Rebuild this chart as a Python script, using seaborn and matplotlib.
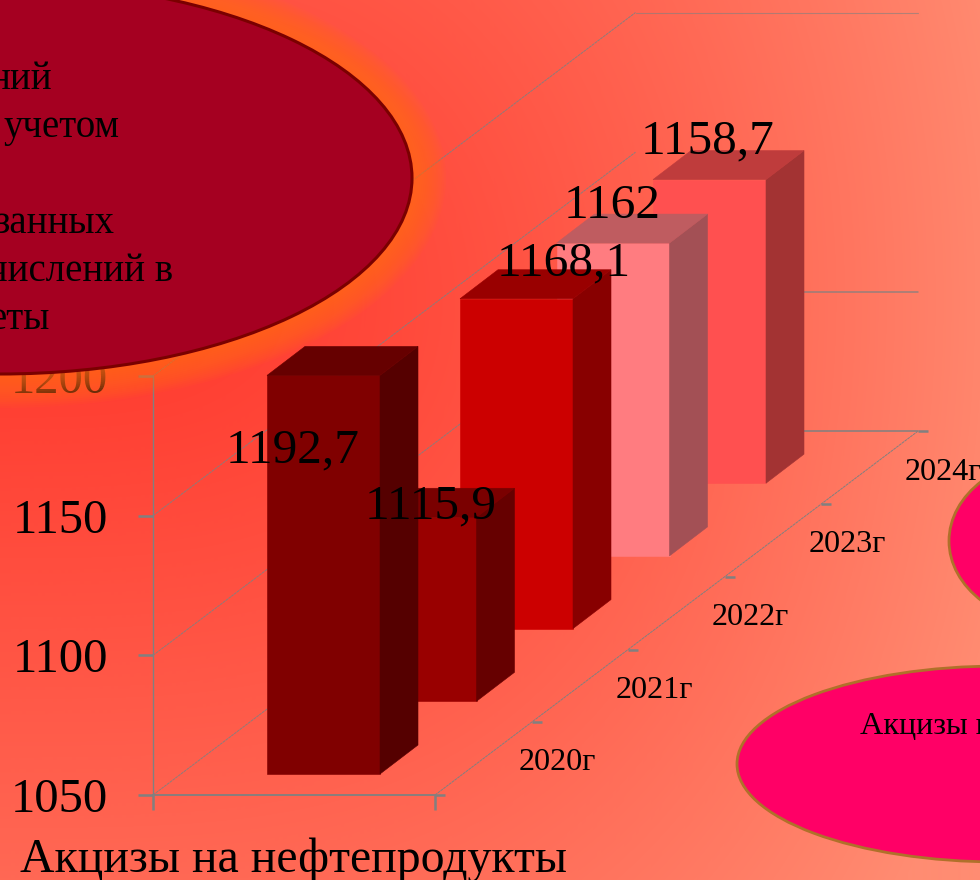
import numpy as np
import pandas as pd
import matplotlib
matplotlib.use("Agg")
import matplotlib.pyplot as plt
from matplotlib.patches import Ellipse
from matplotlib.colors import LinearSegmentedColormap
from matplotlib.transforms import Affine2D
import seaborn as sns

# ---- data ----
years = ["2020г", "2021г", "2022г", "2023г", "2024г"]
values = [1192.7, 1115.9, 1168.1, 1162.0, 1158.7]
value_labels = ["1192,7", "1115,9", "1168,1", "1162", "1158,7"]
y_ticks = [1050, 1100, 1150, 1200]
title_text = "Акцизы на нефтепродукты"
note_lines = ["ний", "учетом", "занных", "числений в", "еты"]
pink_text = "Акцизы н"

# ---- styles ----
front_colors = ["#800000", "#990000", "#CC0000", "#FF7C80", "#FF5050"]
side_colors = ["#550000", "#660000", "#880000", "#A35055", "#A33333"]
top_colors = ["#660000", "#7A0000", "#990000", "#BF5C60", "#BF3C3C"]
label_offsets_px = [(-31, -75), (11, 11), (47, 35), (-1, 37), (-2, 38)]

W, H = 980, 880
PX_PER_STEP = 96.5          # one category in x
PX_PER_UNIT = 2.793         # one value unit in y
Y0_PX, X0_PX = 795, 323.5   # pixel of value 1050, pixel of the first bar centre
DEPTH_UNITS = 26.03         # value units climbed per category going back
BAR_W = 113 / PX_PER_STEP
BAR_SHIFT = 21 / PX_PER_UNIT
SIDE_DX = 38 / PX_PER_STEP
SIDE_DY = 29 / PX_PER_UNIT
FLOOR_L = (153 - X0_PX) / PX_PER_STEP
FLOOR_R = (435 - X0_PX) / PX_PER_STEP
N = len(years)
BASE = y_ticks[0]

sns.set_theme(style="ticks")
plt.rcParams["font.family"] = ["Liberation Serif", "DejaVu Serif"]

fig = plt.figure(figsize=(W / 100, H / 100), dpi=100)

# background gradient
bg = fig.add_axes([0, 0, 1, 1], zorder=-1)
yy, xx = np.mgrid[0:H, 0:W]
rr = np.hypot((xx / 1030) ** 1.6, (yy - 300) / 1000)
cmap = LinearSegmentedColormap.from_list("bg", ["#FF372C", "#FF8C72"])
bg.imshow(rr, cmap=cmap, vmin=0, vmax=1, aspect="auto")
bg.axis("off")

ax = fig.add_axes([0, 0, 1, 1], zorder=1)
ax.patch.set_alpha(0)

df = pd.DataFrame({"year": years, "height": np.array(values) - BASE})
sns.barplot(data=df, x="year", y="height", order=years, width=BAR_W,
            saturation=1, ax=ax)

for i, patch in enumerate(ax.patches):
    b = BASE + BAR_SHIFT + DEPTH_UNITS * i
    t = b + values[i] - BASE
    patch.set_y(b)
    patch.set_facecolor(front_colors[i])
    patch.set_edgecolor(front_colors[i])
    patch.set_linewidth(0.4)
    z = 10 - i
    patch.set_zorder(z)
    xl, xr = i - BAR_W / 2, i + BAR_W / 2
    ax.fill([xr, xr + SIDE_DX, xr + SIDE_DX, xr], [b, b + SIDE_DY, t + SIDE_DY, t],
            color=side_colors[i], lw=0.4, zorder=z)
    ax.fill([xl, xr, xr + SIDE_DX, xl + SIDE_DX], [t, t, t + SIDE_DY, t + SIDE_DY],
            color=top_colors[i], lw=0.4, zorder=z)
    ox, oy = label_offsets_px[i]
    ax.annotate(value_labels[i], xy=(i, t), xytext=(ox * 0.72, oy * 0.72),
                textcoords="offset points", ha="center", va="center",
                fontsize=35.5, color="black", zorder=15)

ax.set_xlim((0 - X0_PX) / PX_PER_STEP, (W - X0_PX) / PX_PER_STEP)
ax.set_ylim(BASE - (H - Y0_PX) / PX_PER_UNIT, BASE + Y0_PX / PX_PER_UNIT)
ax.set_xlabel("")
ax.set_ylabel("")

# walls and floor
grid_c = "#808080"
for v in y_ticks:
    ax.plot([FLOOR_L, FLOOR_L + N], [v, v + N * DEPTH_UNITS], color=grid_c, lw=0.7,
            alpha=0.9, ls=(0, (3, 0.6)), zorder=1)
for v, lw, a in [(1050, 1.1, 1.0), (1100, 1.1, 0.8), (1200, 0.8, 0.6)]:
    ax.plot([FLOOR_L + N, FLOOR_R + N], [v + N * DEPTH_UNITS] * 2, color=grid_c,
            lw=lw, alpha=a, zorder=1)
ax.plot([FLOOR_R, FLOOR_R + N], [BASE, BASE + N * DEPTH_UNITS], color=grid_c, lw=0.7,
        ls=(0, (3, 0.6)), zorder=1)
for k in range(N + 1):
    x0, y0 = FLOOR_R + k, BASE + k * DEPTH_UNITS
    ax.plot([x0, x0 + 10 / PX_PER_STEP], [y0, y0], color=grid_c, lw=1.8, zorder=1,
            solid_capstyle="butt")
for k, yr in enumerate(years):
    ax.text(FLOOR_R + k + 0.5 + 0.77, BASE + (k + 0.5) * DEPTH_UNITS - 1.5, yr,
            ha="center", va="center", fontsize=23.2, color="black", zorder=15)

# real axes
for s in ("top", "right"):
    ax.spines[s].set_visible(False)
ax.spines["left"].set_position(("data", FLOOR_L))
ax.spines["left"].set_bounds(y_ticks[0], y_ticks[-1])
ax.spines["bottom"].set_position(("data", BASE))
ax.spines["bottom"].set_bounds(FLOOR_L, FLOOR_R)
ax.spines["left"].set_color(grid_c)
ax.spines["left"].set_linewidth(1.0)
ax.spines["bottom"].set_color(grid_c)
ax.spines["bottom"].set_linewidth(1.3)
ax.set_xticks([FLOOR_L, FLOOR_R], ["", ""])
ax.set_yticks(y_ticks, [str(v) for v in y_ticks])
ax.tick_params(axis="x", length=10.5, width=1.8, color=grid_c)
ax.tick_params(axis="y", length=10.5, width=1.8, color=grid_c, labelsize=35,
               pad=22, labelcolor="black")

# annotation shapes in pixel space
px = Affine2D().scale(1, -1).translate(0, H)

def ell(cx, cy, a, b, **kw):
    e = Ellipse((cx, cy), 2 * a, 2 * b, transform=px, **kw)
    fig.add_artist(e)
    return e

for t in range(33, 0, -2):
    ell(0, 178, 413 + t, 197 + t, fc="#FF6A1A", ec="none", alpha=0.09, zorder=20)
ell(0, 178, 412, 196, fc="#A50021", ec="#7A0000", lw=2.2, zorder=21)
ell(1000, 764, 263, 98, fc="#FF0066", ec="#B0702A", lw=2, zorder=21)
ell(1062, 541, 113, 85, fc="#FF0066", ec="#B0702A", lw=2, zorder=21)

note_right = [52, 120, 115, 173, 50]
note_y = [79, 127, 223, 271, 319]
for s, x, y in zip(note_lines, note_right, note_y):
    fig.text(x, y, s, transform=px, ha="right", va="center", fontsize=28,
             color="black", zorder=22)
fig.text(860, 726, pink_text, transform=px, ha="left", va="center", fontsize=23.2,
         color="black", zorder=22)
fig.text(20, 860, title_text, transform=px, ha="left", va="center", fontsize=34.4,
         color="black", zorder=22)

fig.savefig("out.png", dpi=100)
